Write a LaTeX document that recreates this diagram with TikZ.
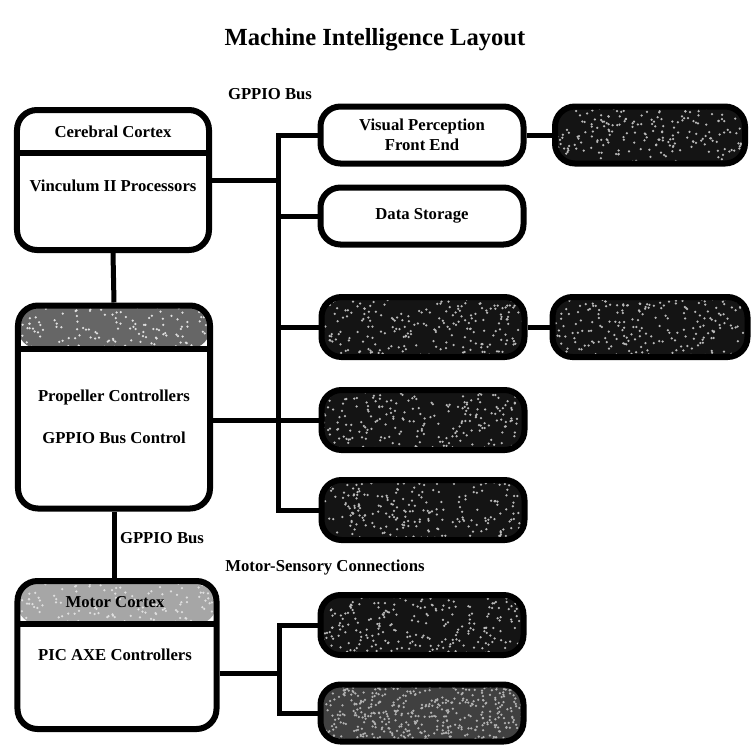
\documentclass[tikz,border=0pt]{standalone}
\usepackage{fontspec}
\setmainfont{Liberation Serif}
\usetikzlibrary{positioning}

\newcommand\lbl{\bfseries\fontsize{9.5}{11.4}\selectfont}
\newcommand\speckles[4]{% seed, count, height, colour
  \pgfmathsetseed{#1}
  \foreach \k in {1,...,#2}{
    \fill[#4] ([shift={(rnd*42mm,-rnd*#3)}]path picture bounding box.north west) circle (0.25mm);
  }}
\newcommand\headband[2]{% fill, speckle colour
  \fill[#1] (path picture bounding box.north west) rectangle ([yshift=-8.6mm]path picture bounding box.north east);
  \speckles{3}{140}{8.6mm}{#2}
  \draw[line width=1.2mm] ([yshift=-8.6mm]path picture bounding box.north west) -- ([yshift=-8.6mm]path picture bounding box.north east);}

\begin{document}
\begin{tikzpicture}[x=0.2mm,y=-0.2mm,
  lbl/.style={font=\lbl,align=center,inner sep=1pt},
  partbox/.style={draw,line width=1.2mm,rounded corners=4mm,minimum width=40.6mm,minimum height=11.4mm,inner sep=0pt,font=\lbl,align=center},
  darkpart/.style={partbox,fill=black!92,path picture={\speckles{#1}{260}{13mm}{gray!55}}},
  brain/.style={draw,line width=1.2mm,rounded corners=4mm,minimum width=38.4mm,inner sep=0pt},
  wire/.style={line width=1mm}]
\useasboundingbox (0,0) rectangle (751,745);

\node[font=\bfseries\fontsize{14}{16}\selectfont] (title) at (375,40) {Machine Intelligence Layout};
\node[lbl] (busname) at (270,94) {GPPIO Bus};
\node[lbl] (lowbus) at (162,538) {GPPIO Bus};
\node[lbl] (motorsense) at (325,567) {Motor-Sensory Connections};
%
\node[brain,minimum height=28mm,path picture={\headband{white}{white}}] (cortex) at (113,180) {};
\node[lbl] (cortexhd) at (113,132) {Cerebral Cortex};
\node[lbl] (cortexbd) at (113,186) {Vinculum II Processors};
\node[brain,minimum height=40.6mm,path picture={\headband{black!60}{gray!25}}] (prop) at (114,407) {};
\node[lbl] (prop1) at (114,397) {Propeller Controllers};
\node[lbl] (prop2) at (114,438) {GPPIO Bus Control};
\node[brain,minimum width=39.8mm,minimum height=29.6mm,path picture={\headband{gray!70}{gray!25}}] (motor) at (117,655) {};
\node[lbl] (motorhd) at (115,602) {Motor Cortex};
\node[lbl] (motorbd) at (115,655) {PIC AXE Controllers};
%
\node[partbox] (vis) at (422,135) {Visual Perception\\Front End};
\node[darkpart=11,minimum width=38mm] (darkvis) at (650,135) {};
\node[partbox] (store) at (422,216) {Data Storage};
\node[darkpart=12,minimum height=12mm] (row3) at (423,327) {};
\node[darkpart=13,minimum height=12mm,minimum width=39mm] (row3b) at (650,327) {};
\node[darkpart=14,minimum height=12mm] (row4) at (423,420) {};
\node[darkpart=15,minimum height=12mm] (row5) at (423,510) {};
\node[darkpart=16,minimum height=12mm] (senseA) at (422,625) {};
\node[partbox,fill=black!75,minimum height=11.4mm,path picture={\speckles{17}{500}{12mm}{gray!60}}] (senseB) at (422,713) {};
%
\coordinate (busx) at (278,0);
\coordinate (branch) at (279,673);
\draw[wire] (vis.west) -| (busx |- row5.west) -- (row5.west);
\draw[wire] (cortex.east) -- (cortex.east -| busx);
\draw[wire] (store.west) -- (store.west -| busx);
\draw[wire] (row3.west) -- (row3.west -| busx);
\draw[wire] (vis.east) -- (darkvis.west);
\draw[wire] (row3.east) -- (row3b.west);
\draw[wire] (prop.east |- row4.west) -- (row4.west);
\draw[wire] (cortex.south) -- (prop.north);
\draw[wire] (prop.south) -- (prop.south |- motor.north);
\draw[wire] (motor.east |- branch) -- (branch);
\draw[wire] (senseA.west) -| (branch) |- (senseB.west);
\end{tikzpicture}
\end{document}
